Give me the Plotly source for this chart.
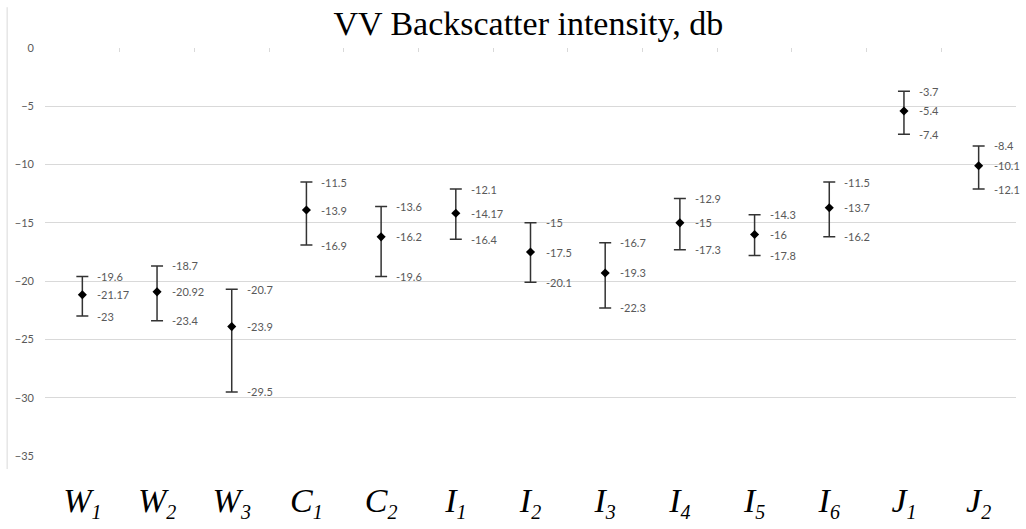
import plotly.graph_objects as go

# Sites and measured VV backscatter (dB)
letters = ["W", "W", "W", "C", "C", "I", "I", "I", "I", "I", "I", "J", "J"]
subs = ["1", "2", "3", "1", "2", "1", "2", "3", "4", "5", "6", "1", "2"]
high = [-19.6, -18.7, -20.7, -11.5, -13.6, -12.1, -15, -16.7, -12.9, -14.3, -11.5, -3.7, -8.4]
mean = [-21.17, -20.92, -23.9, -13.9, -16.2, -14.17, -17.5, -19.3, -15, -16, -13.7, -5.4, -10.1]
low = [-23, -23.4, -29.5, -16.9, -19.6, -16.4, -20.1, -22.3, -17.3, -17.8, -16.2, -7.4, -12.1]

xs = list(range(len(letters)))
ticktext = [f"<i>{l}<sub><span style='font-size:20px'>{s}</span></sub></i>" for l, s in zip(letters, subs)]
label_font = dict(family="Lato, Calibri, sans-serif", size=11, color="#595959")
serif = "Liberation Serif, Times New Roman, serif"

fig = go.Figure()

fig.add_trace(go.Scatter(
    x=xs, y=mean, mode="markers",
    marker=dict(symbol="diamond", size=7, color="black"),
    error_y=dict(type="data", symmetric=False,
                 array=[h - m for h, m in zip(high, mean)],
                 arrayminus=[m - l for m, l in zip(mean, low)],
                 color="#333333", thickness=1.5, width=6),
    showlegend=False, hoverinfo="skip",
))

# dummy trace so the top tick axis is drawn
fig.add_trace(go.Scatter(x=[xs[0]], y=[0], xaxis="x2", mode="markers",
                         marker=dict(opacity=0), showlegend=False, hoverinfo="skip"))

# value labels to the right of caps and markers
for series in (high, mean, low):
    for x, v in zip(xs, series):
        fig.add_annotation(x=x, y=v, text=f"{v:g}", showarrow=False,
                           xanchor="left", yanchor="middle", xshift=13,
                           font=label_font)

# light border at far left of the chart area
fig.add_shape(type="line", xref="paper", yref="paper", x0=-0.039, x1=-0.039,
              y0=-0.032, y1=1.1, line=dict(color="#d9d9d9", width=1))

fig.update_layout(
    width=1026, height=529,
    margin=dict(l=45, r=10, t=48, b=73, autoexpand=False),
    paper_bgcolor="white", plot_bgcolor="white",
    title=dict(text="VV Backscatter intensity, db", x=0.515, xanchor="center",
               y=0.978, yanchor="top",
               font=dict(family=serif, size=34, color="black")),
    xaxis=dict(tickmode="array", tickvals=xs, ticktext=ticktext, automargin=False,
               range=[-0.5, len(xs) - 0.5], showgrid=False, zeroline=False,
               showline=False, ticks="", ticklabelstandoff=21,
               tickfont=dict(family=serif, size=34, color="black")),
    xaxis2=dict(overlaying="x", side="top", range=[-0.5, len(xs) - 0.5], automargin=False,
                tickmode="array", tickvals=[i - 0.5 for i in range(len(xs) + 1)],
                ticks="inside", ticklen=4, tickcolor="#d9d9d9", showticklabels=False,
                showgrid=False, zeroline=False, showline=False),
    yaxis=dict(range=[-35, 0], dtick=5, showgrid=True, gridcolor="#d9d9d9", gridwidth=1,
               zeroline=False, showline=False, ticks="", ticklabelstandoff=10,
               automargin=False, tickfont=label_font),
)

fig.write_html("out.html", config={"displayModeBar": False},
               post_script="document.body.style.margin='0';")
